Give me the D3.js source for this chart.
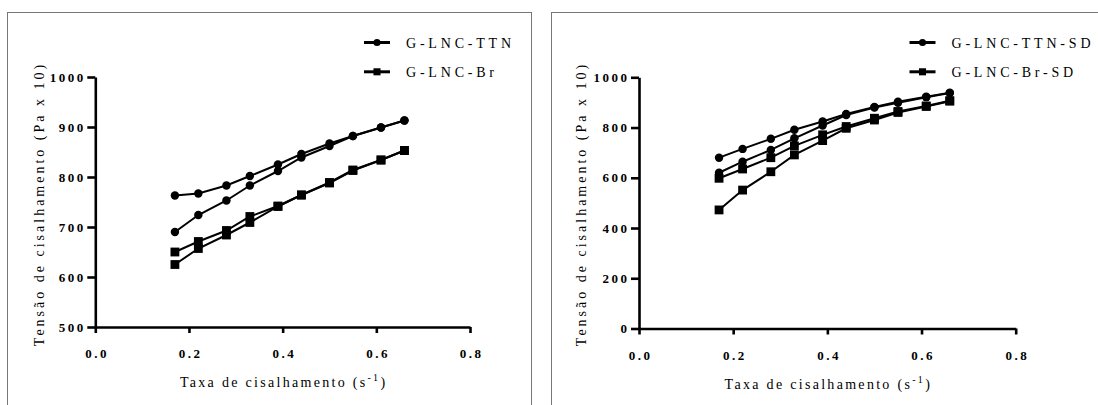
<!DOCTYPE html>
<html lang="pt">
<head>
<meta charset="utf-8">
<title>Tensão de cisalhamento</title>
<script src="https://cdn.jsdelivr.net/npm/d3@7"></script>
<style>
  body { margin: 0; background: #fff; }
  svg text { font-family: "Liberation Serif", "DejaVu Serif", "Times New Roman", serif !important; fill: #000; }
</style>
</head>
<body>
<script>
// shear rate (s^-1), same for every curve
var shearRate = [0.17, 0.22, 0.28, 0.33, 0.39, 0.44, 0.50, 0.55, 0.61, 0.66];

// left panel: two runs each
var ttnUp   = [763, 767, 783, 802, 825, 846, 867, 882, 899, 913];
var ttnDown = [690, 724, 753, 783, 812, 839, 862, 882, 899, 913];
var brUp    = [650, 671, 693, 721, 742, 764, 789, 814, 834, 853];
var brDown  = [625, 657, 684, 709, 741, 764, 788, 813, 834, 853];

// right panel
var ttnSdUp   = [680, 715, 755, 791, 824, 854, 882, 903, 923, 939];
var ttnSdDown = [620, 664, 711, 757, 808, 850, 880, 899, 921, 937];
var brSdUp    = [598, 635, 680, 727, 771, 804, 837, 864, 886, 907];
var brSdDown  = [472, 551, 624, 691, 748, 797, 830, 860, 884, 905];

var xTicks = [0, 0.2, 0.4, 0.6, 0.8];
var yTicksLeft = [500, 600, 700, 800, 900, 1000];
var yTicksRight = [0, 200, 400, 600, 800, 1000];
var legendLeft = ["G-LNC-TTN", "G-LNC-Br"];
var legendRight = ["G-LNC-TTN-SD", "G-LNC-Br-SD"];

var svg = d3.select("body").append("svg")
  .attr("width", 1098).attr("height", 405);

// frames around each figure
svg.append("rect").attr("x", 7.5).attr("y", 12.5).attr("width", 524).attr("height", 420)
  .attr("fill", "none").attr("stroke", "#777").attr("stroke-width", 1);
svg.append("rect").attr("x", 551.5).attr("y", 12.5).attr("width", 600).attr("height", 420)
  .attr("fill", "none").attr("stroke", "#777").attr("stroke-width", 1);

function drawPanel(p) {
  var g = svg.append("g");
  var x = d3.scaleLinear().domain([0, 0.8]).range([p.left, p.right]);
  var y = d3.scaleLinear().domain(p.yDomain).range([p.bottom, p.top]);

  // x axis
  var xa = g.append("g").attr("transform", "translate(0," + p.bottom + ")")
    .call(d3.axisBottom(x).tickValues(xTicks).tickFormat(d3.format(".1f"))
      .tickSize(6).tickSizeOuter(0).tickPadding(16));
  // y axis
  var ya = g.append("g").attr("transform", "translate(" + p.left + ",0)")
    .call(d3.axisLeft(y).tickValues(p.yTicks).tickFormat(d3.format("d"))
      .tickSize(8).tickSizeOuter(0).tickPadding(4));

  g.selectAll(".domain, .tick line").attr("stroke", "#000").attr("stroke-width", 2.6);
  g.selectAll(".tick text")
    .style("font-size", "13px").style("font-weight", "bold")
    .style("letter-spacing", "2.5px");
  xa.selectAll(".tick text").attr("dx", 1.2);
  ya.selectAll(".tick text").attr("dx", 2.5);

  // series
  var line = d3.line().x(function(d) { return x(d[0]); }).y(function(d) { return y(d[1]); });
  p.series.forEach(function(s) {
    var pts = shearRate.map(function(r, i) { return [r, s.values[i]]; });
    g.append("path").datum(pts).attr("d", line)
      .attr("fill", "none").attr("stroke", "#000").attr("stroke-width", 2);
    var sym = s.shape === "circle" ? d3.symbolCircle : d3.symbolSquare;
    var size = s.shape === "circle" ? 56 : 78;
    g.selectAll(null).data(pts).enter().append("path")
      .attr("transform", function(d) { return "translate(" + x(d[0]) + "," + y(d[1]) + ")"; })
      .attr("d", d3.symbol().type(sym).size(size))
      .attr("fill", "#000");
  });

  // axis titles
  var xt = g.append("text").attr("x", (p.left + p.right) / 2 + 1).attr("y", p.bottom + 60)
    .attr("text-anchor", "middle").style("font-size", "14px").style("letter-spacing", "2.3px");
  xt.append("tspan").text("Taxa de cisalhamento (s");
  xt.append("tspan").attr("dy", -6).style("font-size", "10px").text("-1");
  xt.append("tspan").attr("dy", 6).text(")");

  g.append("text")
    .attr("transform", "translate(" + p.yTitleX + ",204) rotate(-90)")
    .attr("text-anchor", "middle").style("font-size", "14px").style("letter-spacing", "3px")
    .text("Tensão de cisalhamento (Pa x 10)");

  // legend
  p.legend.forEach(function(name, i) {
    var ly = 42.5 + i * 29.3;
    g.append("line").attr("x1", p.legendX).attr("x2", p.legendX + 26)
      .attr("y1", ly).attr("y2", ly).attr("stroke", "#000").attr("stroke-width", 3);
    g.append("path")
      .attr("transform", "translate(" + (p.legendX + 13) + "," + ly + ")")
      .attr("d", d3.symbol().type(i === 0 ? d3.symbolCircle : d3.symbolSquare).size(i === 0 ? 40 : 50))
      .attr("fill", "#000");
    g.append("text").attr("x", p.legendX + 42).attr("y", ly + 5.5)
      .style("font-size", "14px").style("letter-spacing", "3.8px").text(name);
  });
}

drawPanel({
  left: 95.3, right: 470, top: 77, bottom: 327,
  yDomain: [500, 1000], yTicks: yTicksLeft,
  yTitleX: 44, legendX: 364, legend: legendLeft,
  series: [
    { values: ttnUp, shape: "circle" },
    { values: ttnDown, shape: "circle" },
    { values: brUp, shape: "square" },
    { values: brDown, shape: "square" }
  ]
});

drawPanel({
  left: 639, right: 1015.7, top: 77.3, bottom: 328.5,
  yDomain: [0, 1000], yTicks: yTicksRight,
  yTitleX: 586, legendX: 909.5, legend: legendRight,
  series: [
    { values: ttnSdUp, shape: "circle" },
    { values: ttnSdDown, shape: "circle" },
    { values: brSdUp, shape: "square" },
    { values: brSdDown, shape: "square" }
  ]
});
</script>
</body>
</html>
